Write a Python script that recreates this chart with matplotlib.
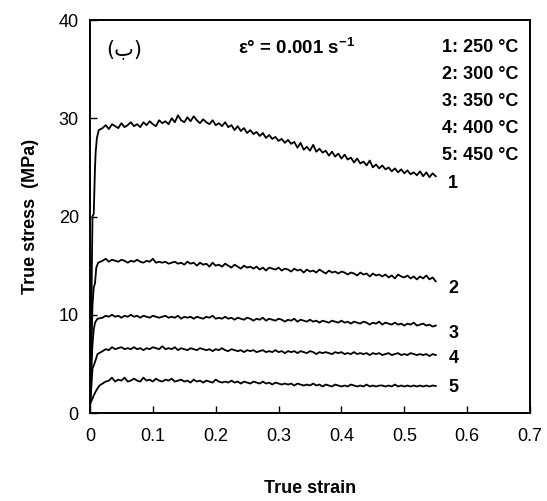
import matplotlib
matplotlib.use("Agg")
import matplotlib.pyplot as plt

plt.rcParams['font.family'] = ['Liberation Sans', 'DejaVu Sans']
plt.rcParams['mathtext.fontset'] = 'custom'
plt.rcParams['mathtext.rm'] = 'Liberation Sans'
plt.rcParams['mathtext.bf'] = 'Liberation Sans:bold'

# strain grid for the plateau part (every 0.005 from 0.02 to 0.55)
strain_plateau = [round(0.02 + 0.005 * i, 3) for i in range(107)]

# curve 1 : 250 C
rise1_x = [0.0, 0.002, 0.003, 0.004, 0.006, 0.008, 0.009, 0.011, 0.014]
rise1_y = [0.5, 8.0, 15.0, 20.0, 20.3, 25.0, 26.5, 28.0, 28.8]
stress1 = [29.0, 29.3, 28.9, 29.4, 29.2, 29.0, 29.5, 29.1, 29.3, 29.6,
           29.2, 29.4, 29.1, 29.6, 29.3, 29.7, 29.4, 29.2, 29.8, 29.5,
           29.7, 29.4, 30.0, 29.6, 30.3, 29.8, 29.6, 30.1, 29.7, 30.2,
           29.8, 29.5, 29.9, 29.6, 29.4, 29.8, 29.3, 29.5, 29.2, 29.6,
           29.1, 29.3, 28.8, 29.2, 28.7, 29.0, 28.5, 28.8, 28.4, 28.6,
           28.2, 28.5, 28.0, 28.3, 27.9, 28.1, 27.7, 27.9, 27.5, 27.8,
           27.4, 27.6, 27.0, 27.5, 26.8, 27.1, 26.7, 27.3, 26.6, 26.9,
           26.5, 26.7, 26.2, 26.6, 26.1, 26.4, 25.9, 26.3, 25.8, 26.0,
           25.5, 25.9, 25.4, 25.6, 25.2, 25.7, 25.0, 25.3, 24.9, 25.2,
           24.8, 25.0, 24.6, 24.9, 24.5, 24.8, 24.4, 24.7, 24.3, 24.5,
           24.2, 24.6, 24.1, 24.5, 24.0, 24.4, 24.1]

# curve 2 : 300 C
rise2_x = [0.0, 0.002, 0.004, 0.006, 0.008, 0.01, 0.013]
rise2_y = [0.3, 6.0, 11.0, 12.8, 13.2, 14.8, 15.3]
stress2 = [15.5, 15.7, 15.4, 15.6, 15.5, 15.4, 15.6, 15.5, 15.3, 15.5,
           15.4, 15.6, 15.4, 15.3, 15.5, 15.4, 15.7, 15.3, 15.4, 15.3,
           15.4, 15.2, 15.3, 15.4, 15.2, 15.3, 15.1, 15.4, 15.2, 15.3,
           15.0, 15.3, 15.1, 15.2, 14.9, 15.3, 15.0, 15.1, 14.9, 15.2,
           15.0, 14.8, 15.1, 14.9, 14.7, 15.0, 14.8, 14.9, 14.7, 14.9,
           14.6, 14.8, 14.5, 14.8, 14.7, 14.6, 14.8, 14.5, 14.7, 14.6,
           14.4, 14.7, 14.5, 14.6, 14.3, 14.6, 14.4, 14.5, 14.3, 14.6,
           14.4, 14.2, 14.5, 14.3, 14.4, 14.2, 14.4, 14.3, 14.1, 14.3,
           14.2, 14.0, 14.3, 14.1, 14.2, 13.9, 14.2, 14.0, 14.1, 13.9,
           14.1, 13.8, 14.0, 13.7, 14.1, 13.9, 13.8, 14.0, 13.7, 13.9,
           13.6, 13.9, 13.7, 14.0, 13.6, 13.8, 13.4]

# curve 3 : 350 C
rise3_x = [0.0, 0.002, 0.004, 0.006, 0.008, 0.012]
rise3_y = [0.3, 4.0, 7.0, 8.5, 9.2, 9.6]
stress3 = [9.7, 9.9, 9.8, 10.0, 9.8, 9.9, 9.7, 9.9, 9.8, 10.0,
           9.8, 9.9, 9.7, 9.9, 9.8, 9.7, 9.9, 9.8, 9.7, 9.8,
           9.9, 9.7, 9.8, 9.7, 9.9, 9.6, 9.8, 9.7, 9.8, 9.6,
           9.8, 9.7, 9.6, 9.8, 9.7, 9.9, 9.6, 9.7, 9.6, 9.8,
           9.6, 9.7, 9.5, 9.7, 9.6, 9.5, 9.7, 9.6, 9.4, 9.6,
           9.5, 9.7, 9.4, 9.6, 9.5, 9.4, 9.6, 9.5, 9.3, 9.5,
           9.4, 9.6, 9.3, 9.5, 9.4, 9.3, 9.5, 9.3, 9.4, 9.2,
           9.4, 9.3, 9.2, 9.4, 9.3, 9.2, 9.4, 9.2, 9.3, 9.1,
           9.3, 9.2, 9.1, 9.3, 9.2, 9.0, 9.2, 9.1, 9.3, 9.0,
           9.2, 9.1, 9.0, 9.2, 9.0, 9.1, 8.9, 9.1, 9.0, 9.2,
           8.9, 9.0, 9.1, 8.9, 9.0, 8.8, 8.9]

# curve 4 : 400 C
rise4_x = [0.0, 0.002, 0.004, 0.008, 0.012]
rise4_y = [0.3, 2.5, 4.5, 5.2, 6.0]
stress4 = [6.3, 6.5, 6.4, 6.7, 6.5, 6.6, 6.7, 6.5, 6.6, 6.5,
           6.7, 6.5, 6.6, 6.4, 6.6, 6.5, 6.7, 6.6, 6.5, 6.8,
           6.5, 6.6, 6.5, 6.7, 6.4, 6.6, 6.5, 6.4, 6.6, 6.5,
           6.4, 6.6, 6.5, 6.4, 6.5, 6.3, 6.5, 6.4, 6.6, 6.4,
           6.3, 6.5, 6.4, 6.3, 6.4, 6.2, 6.4, 6.3, 6.4, 6.2,
           6.3, 6.4, 6.2, 6.3, 6.2, 6.4, 6.2, 6.3, 6.1, 6.3,
           6.2, 6.3, 6.1, 6.3, 6.2, 6.1, 6.3, 6.2, 6.0, 6.2,
           6.1, 6.2, 6.1, 6.0, 6.2, 6.1, 6.2, 6.0, 6.1, 6.0,
           6.2, 6.0, 6.1, 6.0, 6.1, 5.9, 6.1, 6.0, 6.1, 5.9,
           6.0, 6.1, 5.9, 6.0, 6.1, 5.9, 6.0, 5.9, 6.1, 6.0,
           5.9, 6.0, 5.9, 6.0, 5.8, 6.0, 5.9]

# curve 5 : 450 C
rise5_x = [0.0, 0.003, 0.006, 0.01, 0.015]
rise5_y = [1.0, 1.3, 1.8, 2.3, 2.8]
stress5 = [3.0, 3.2, 3.3, 3.6, 3.2, 3.4, 3.3, 3.6, 3.2, 3.3,
           3.5, 3.3, 3.2, 3.6, 3.3, 3.4, 3.2, 3.5, 3.3, 3.2,
           3.4, 3.3, 3.5, 3.2, 3.3, 3.4, 3.2, 3.3, 3.1, 3.4,
           3.2, 3.3, 3.1, 3.3, 3.2, 3.1, 3.4, 3.2, 3.1, 3.2,
           3.1, 3.3, 3.1, 3.2, 3.0, 3.2, 3.1, 3.0, 3.2, 3.1,
           3.0, 3.2, 3.0, 3.1, 2.9, 3.1, 3.0, 2.9, 3.0, 2.9,
           3.0, 2.8, 3.0, 2.9, 2.8, 2.9, 2.8, 3.0, 2.8, 2.9,
           2.7, 2.9, 2.8, 2.7, 2.9, 2.8, 2.7, 2.8, 2.7, 2.9,
           2.8, 2.7, 2.8, 2.7, 2.9, 2.7, 2.8, 2.7, 2.8, 2.8,
           2.7, 2.8, 2.7, 2.9, 2.7, 2.8, 2.7, 2.8, 2.7, 2.8,
           2.7, 2.8, 2.7, 2.8, 2.7, 2.8, 2.75]

rises_x = [rise1_x, rise2_x, rise3_x, rise4_x, rise5_x]
rises_y = [rise1_y, rise2_y, rise3_y, rise4_y, rise5_y]
plateaus = [stress1, stress2, stress3, stress4, stress5]

curve_ids = ['1', '2', '3', '4', '5']
label_y = [23.4, 12.7, 8.1, 5.6, 2.6]
temps = ['1: 250 °C', '2: 300 °C', '3: 350 °C', '4: 400 °C', '5: 450 °C']

fig = plt.figure(figsize=(5.47, 5.01), dpi=100)
ax = fig.add_axes([0.1645, 0.1756, 0.8045, 0.7844])

for rx, ry, st in zip(rises_x, rises_y, plateaus):
    ax.plot(rx + strain_plateau, ry + st, color='black', linewidth=1.3)

for cid, ly in zip(curve_ids, label_y):
    ax.text(0.578, ly, cid, fontsize=13, fontweight='bold', ha='center', va='center')

# temperature list, right aligned
for i, t in enumerate(temps):
    ax.text(0.682, 37.2 - 2.75 * i, t, fontsize=13, fontweight='bold', ha='right', va='center')

ax.text(0.054, 37.0, '(ب)', fontsize=15, ha='center', va='center',
        family=['DejaVu Sans', 'Liberation Sans'])
ax.text(0.328, 37.2, 'ε° = 0.001 s$^{\\mathbf{-1}}$', fontsize=13.5, fontweight='bold',
        ha='center', va='center')

ax.set_xlim(0, 0.7)
ax.set_ylim(0, 40)
ax.set_xticks([0, 0.1, 0.2, 0.3, 0.4, 0.5, 0.6, 0.7])
ax.set_xticklabels(['0', '0.1', '0.2', '0.3', '0.4', '0.5', '0.6', '0.7'])
ax.set_yticks([0, 10, 20, 30, 40])
ax.tick_params(direction='in', length=5, width=1, labelsize=13, pad=11)
ax.tick_params(axis='y', pad=8)
for s in ax.spines.values():
    s.set_linewidth(1.4)

ax.set_xlabel('True strain', fontsize=13, fontweight='bold', labelpad=25)
ax.set_ylabel('True stress  (MPa)', fontsize=13, fontweight='bold', labelpad=14)

fig.savefig('out.png', dpi=100)
